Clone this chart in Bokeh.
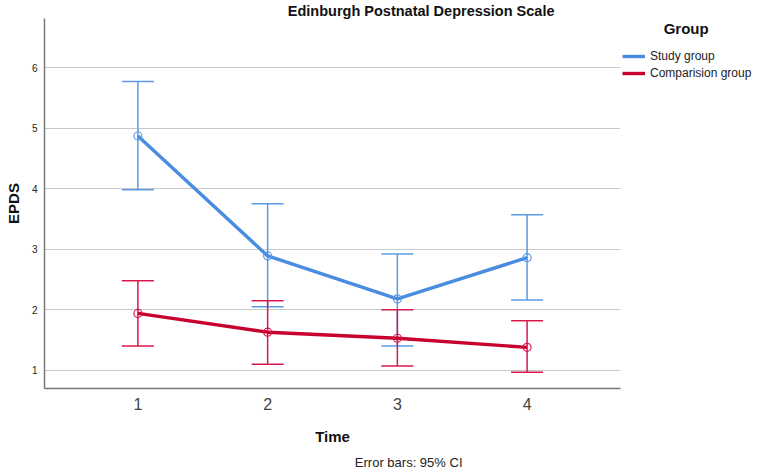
from bokeh.plotting import figure
from bokeh.models import (ColumnDataSource, Whisker, TeeHead, Legend,
                          LegendItem, FixedTicker, Range1d, Title)
from bokeh.embed import file_html
from bokeh.resources import INLINE

times = [1, 2, 3, 4]
study_mean = [4.87, 2.89, 2.18, 2.86]
study_lower = [3.98, 2.05, 1.40, 2.16]
study_upper = [5.77, 3.75, 2.92, 3.57]
comp_mean = [1.94, 1.63, 1.53, 1.38]
comp_lower = [1.40, 1.10, 1.07, 0.97]
comp_upper = [2.48, 2.15, 2.00, 1.82]
y_ticks = [1, 2, 3, 4, 5, 6]
groups = ["Study group", "Comparision group"]

BLUE = "#4A8CE0"
BLUE_ERR = "#5B9BE6"
RED = "#C8002E"
RED_ERR = "#D8184C"
FONT = "Liberation Sans"

p = figure(frame_width=576, frame_height=370, output_backend="svg",
           toolbar_location=None,
           x_range=Range1d(0.28, 4.72), y_range=Range1d(0.70, 6.81),
           min_border_left=44, min_border_right=138, min_border_top=18,
           min_border_bottom=85)
p.outline_line_color = None
p.background_fill_color = "white"
p.border_fill_color = "white"

p.xgrid.grid_line_color = None
p.ygrid.grid_line_color = "#C8C8C8"
p.ygrid.grid_line_width = 1.2
p.ygrid.ticker = FixedTicker(ticks=y_ticks)

p.yaxis.ticker = FixedTicker(ticks=y_ticks)
p.xaxis.ticker = FixedTicker(ticks=times)
for ax in (p.xaxis, p.yaxis):
    ax.axis_line_color = "#777777"
    ax.axis_line_width = 1.5
    ax.major_tick_line_color = None
    ax.minor_tick_line_color = None
    ax.major_tick_out = 0
    ax.major_tick_in = 0
    ax.major_label_text_font = FONT
    ax.axis_label_text_font = FONT
    ax.axis_label_text_font_style = "bold"
    ax.axis_label_text_font_size = "15px"
    ax.axis_label_text_color = "#111111"
p.yaxis.major_label_text_font_size = "10px"
p.yaxis.major_label_text_color = "#222222"
p.yaxis.major_label_standoff = 7
p.yaxis.axis_label = "EPDS"
p.yaxis.axis_label_standoff = 7
p.xaxis.major_label_text_font_size = "16px"
p.xaxis.major_label_text_color = "#444444"
p.xaxis.major_label_standoff = 9
p.xaxis.axis_label = "Time"
p.xaxis.axis_label_standoff = 15

src_s = ColumnDataSource(dict(x=times, m=study_mean, lo=study_lower, hi=study_upper))
src_c = ColumnDataSource(dict(x=times, m=comp_mean, lo=comp_lower, hi=comp_upper))

# Study group
ws = Whisker(source=src_s, base="x", lower="lo", upper="hi",
             line_color=BLUE_ERR, line_width=1.5,
             upper_head=TeeHead(size=32, line_color=BLUE_ERR, line_width=1.5),
             lower_head=TeeHead(size=32, line_color=BLUE_ERR, line_width=1.5))
p.add_layout(ws)
l_s = p.line("x", "m", source=src_s, line_color=BLUE, line_width=3.4)
p.scatter("x", "m", source=src_s, size=8, fill_color="white", fill_alpha=0.0,
          line_color=BLUE_ERR, line_width=1.2)

# Comparison group
wc = Whisker(source=src_c, base="x", lower="lo", upper="hi",
             line_color=RED_ERR, line_width=1.5,
             upper_head=TeeHead(size=32, line_color=RED_ERR, line_width=1.5),
             lower_head=TeeHead(size=32, line_color=RED_ERR, line_width=1.5))
p.add_layout(wc)
l_c = p.line("x", "m", source=src_c, line_color=RED, line_width=3.4)
p.scatter("x", "m", source=src_c, size=8, fill_color="white", fill_alpha=0.0,
          line_color=RED_ERR, line_width=1.2)

NB = "\u00a0"
legend = Legend(items=[LegendItem(label=groups[0], renderers=[l_s]),
                       LegendItem(label=groups[1], renderers=[l_c])],
                location="top_left", padding=0, margin=2, spacing=3,
                glyph_width=23, glyph_height=14, label_height=14,
                label_standoff=5, border_line_color=None,
                background_fill_alpha=0.0,
                title=NB * 10 + "Group", title_text_font=FONT,
                title_text_font_size="15px", title_text_font_style="bold",
                title_text_color="#111111", title_standoff=12,
                label_text_font=FONT, label_text_font_size="12px",
                label_text_color="#222222")
p.add_layout(legend, "right")

title = Title(text="Edinburgh Postnatal Depression Scale", align="right",
              offset=66, standoff=0, text_font=FONT, text_font_size="14.5px",
              text_font_style="bold", text_color="#111111")
p.add_layout(title, "above")

note = Title(text="Error bars: 95% CI", align="right", offset=158,
             standoff=11, text_font=FONT, text_font_size="13px",
             text_font_style="normal", text_color="#222222")
p.add_layout(note, "below")

open("out.html", "w").write(file_html(p, INLINE))
